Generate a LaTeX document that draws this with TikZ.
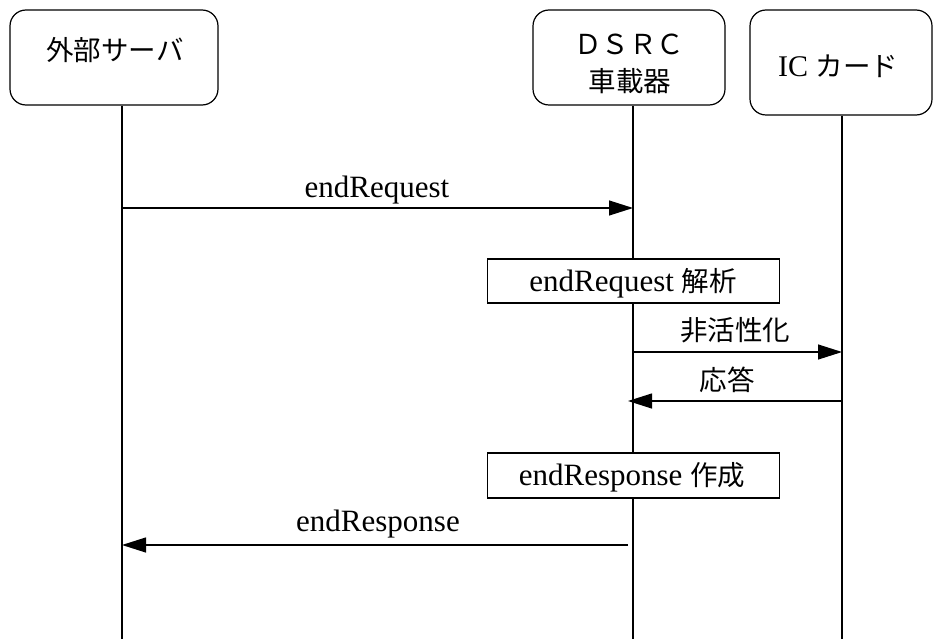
\documentclass[tikz,border=0pt]{standalone}
\usepackage{fontspec}
\setmainfont{Liberation Serif}
\newfontfamily\jp{Noto Sans CJK JP}
\usetikzlibrary{arrows.meta}
\newcommand{\jpsz}{\jp\fontsize{27.5}{32}\selectfont}
\tikzset{
  actor/.style={draw,line width=1.2pt,rounded corners=16pt,inner sep=0pt},
  proc/.style={draw,line width=1.2pt,fill=white,inner sep=0pt},
  life/.style={line width=1.2pt},
  msg/.style={line width=1.2pt,-{Triangle[length=24pt,width=15pt]}},
  lbl/.style={inner sep=0pt,font=\fontsize{31}{36}\selectfont},
  jlbl/.style={inner sep=0pt,font=\jpsz},
}
\begin{document}
\begin{tikzpicture}[x=1pt,y=-1pt]
\useasboundingbox (0,0) rectangle (934,639);
% actors
\node[actor,minimum width=208pt,minimum height=95pt] (srv) at (114,57.5) {};
\node[actor,minimum width=192pt,minimum height=95pt] (dsrc) at (629,57.5) {};
\node[actor,minimum width=182pt,minimum height=105pt] (ic) at (841,62.5) {};
\node[jlbl] (srvt) at (115,50) {外部サーバ};
\node[jlbl] (dsrct1) at (629,44) {ＤＳＲＣ};
\node[jlbl] (dsrct2) at (630,81) {車載器};
\node[lbl,font=\fontsize{30}{34}\selectfont] (ict) at (838,66) {IC {\jpsz カード}};
% lifelines
\coordinate (srvB) at (122,639);
\coordinate (dsrcB) at (633,639);
\coordinate (icB) at (842,639);
\draw[life] (srv.south -| srvB) -- (srvB);
\draw[life] (dsrc.south -| dsrcB) -- (dsrcB);
\draw[life] (ic.south -| icB) -- (icB);
% messages
\coordinate (m1a) at (122,208); \coordinate (m1b) at (633,208);
\draw[msg] (m1a) -- (m1b);
\node[lbl] (m1t) at (377,190) {endRequest};
\node[proc,minimum width=292pt,minimum height=44pt] (p1) at (633.5,281) {};
\node[lbl] (p1t) at (633,283) {endRequest {\jpsz 解析}};
\coordinate (m2a) at (633,352); \coordinate (m2b) at (842,352);
\draw[msg] (m2a) -- (m2b);
\node[jlbl] (m2t) at (735,330) {非活性化};
\coordinate (m3a) at (842,401); \coordinate (m3b) at (628,401);
\draw[msg] (m3a) -- (m3b);
\node[jlbl] (m3t) at (727,380) {応答};
\node[proc,minimum width=292pt,minimum height=45pt] (p2) at (633.5,475.5) {};
\node[lbl] (p2t) at (632,477) {endResponse {\jpsz 作成}};
\coordinate (m4a) at (628,545); \coordinate (m4b) at (122,545);
\draw[msg] (m4a) -- (m4b);
\node[lbl] (m4t) at (378,524) {endResponse};
\end{tikzpicture}
\end{document}
